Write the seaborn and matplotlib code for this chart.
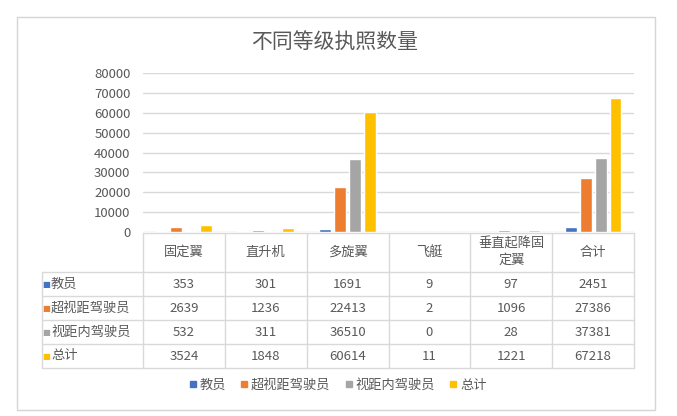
import matplotlib
matplotlib.use("Agg")
import matplotlib.pyplot as plt
from matplotlib.patches import Rectangle
from matplotlib.lines import Line2D
import seaborn as sns
import pandas as pd

# ---- data ----
categories = ['固定翼', '直升机', '多旋翼', '飞艇', '垂直起降固定翼', '合计']
table_headers = ['固定翼', '直升机', '多旋翼', '飞艇', '垂直起降固\n定翼', '合计']
series_names = ['教员', '超视距驾驶员', '视距内驾驶员', '总计']
jiaoyuan = [353, 301, 1691, 9, 97, 2451]
chaoshiju = [2639, 1236, 22413, 2, 1096, 27386]
shijunei = [532, 311, 36510, 0, 28, 37381]
zongji = [3524, 1848, 60614, 11, 1221, 67218]
series_values = [jiaoyuan, chaoshiju, shijunei, zongji]
colors = ['#4472C4', '#ED7D31', '#A5A5A5', '#FFC000']
title = '不同等级执照数量'
yticks = [0, 10000, 20000, 30000, 40000, 50000, 60000, 70000, 80000]

sns.set_style('white')
plt.rcParams['font.family'] = ['Noto Sans CJK SC', 'DejaVu Sans']

W, H = 677, 416
fig = plt.figure(figsize=(W / 100, H / 100), dpi=100)
fig.patch.set_facecolor('white')

def fx(px):
    return px / W

def fy(py):
    return 1 - py / H

# outer border
fig.patches.append(Rectangle((fx(17), fy(410)), fx(655) - fx(17), fy(17) - fy(410),
                             transform=fig.transFigure, fill=False,
                             edgecolor='#D5D5D5', linewidth=1.0))

text_c = '#595959'
grid_c = '#D9D9D9'

# ---- bar chart ----
px0, px1 = 143, 634
ax = fig.add_axes([fx(px0), fy(232), fx(px1) - fx(px0), fy(73) - fy(232)])
rows = []
for name, vals in zip(series_names, series_values):
    for c, v in zip(categories, vals):
        rows.append({'类别': c, '数量': v, '系列': name})
df = pd.DataFrame(rows)
sns.barplot(data=df, x='类别', y='数量', hue='系列', order=categories,
            hue_order=series_names, palette=colors, width=0.73, gap=0.2,
            saturation=1, ax=ax, legend=False, errorbar=None)
ax.set_ylim(0, 80000)
ax.set_yticks(yticks)
ax.set_yticklabels([str(t) for t in yticks], fontsize=9.5, color=text_c)
ax.set_xlim(-0.5, 5.5)
ax.set_xticks([])
ax.set_xlabel('')
ax.set_ylabel('')
for s in ax.spines.values():
    s.set_visible(False)
ax.tick_params(axis='y', length=0, pad=9)
ax.yaxis.grid(True, color=grid_c, linewidth=1)
ax.set_axisbelow(True)

fig.text(fx(335), fy(42), title, ha='center', va='center', fontsize=15, color=text_c)

# ---- data table (drawn in a pixel-like layout axes) ----
tx0, tx1, ty0, ty1 = 42, px1, 233, 368
head_h, row_h = 39, 24
tax = fig.add_axes([fx(tx0), fy(ty1), fx(tx1) - fx(tx0), fy(ty0) - fy(ty1)])
tax.set_xlim(tx0, tx1)
tax.set_ylim(ty1, ty0)
tax.axis('off')
ncol = len(table_headers)
col_w = (px1 - px0) / ncol
col_edges = [px0 + i * col_w for i in range(ncol + 1)]
row_edges = [ty0 + head_h + i * row_h for i in range(len(series_names) + 1)]
lw = 1.0
# horizontal lines
tax.plot([px0, px1], [ty0, ty0], color=grid_c, lw=lw, clip_on=False)
for yy in row_edges:
    tax.plot([tx0, px1], [yy, yy], color=grid_c, lw=lw, clip_on=False)
# vertical lines
tax.plot([tx0, tx0], [row_edges[0], row_edges[-1]], color=grid_c, lw=lw, clip_on=False)
for xx in col_edges:
    tax.plot([xx, xx], [ty0, row_edges[-1]], color=grid_c, lw=lw, clip_on=False)
# header text
for j, h in enumerate(table_headers):
    tax.text(col_edges[j] + col_w / 2, ty0 + head_h / 2, h, ha='center', va='center',
             fontsize=9.5, color=text_c, linespacing=1.3)
# rows
for i, (name, vals, col) in enumerate(zip(series_names, series_values, colors)):
    yc = row_edges[i] + row_h / 2
    tax.text(46, yc, '■', color=col, fontsize=6, family='DejaVu Sans',
             ha='center', va='center')
    tax.text(51, yc, name, ha='left', va='center', fontsize=9.5, color=text_c)
    for j, v in enumerate(vals):
        tax.text(col_edges[j] + col_w / 2, yc, str(v), ha='center', va='center',
                 fontsize=9.5, color=text_c)

# ---- legend ----
handles = [Line2D([], [], marker='s', linestyle='', color=c, markersize=4) for c in colors]
fig.legend(handles, series_names, ncol=4, loc='center', bbox_to_anchor=(fx(337), fy(385)),
           frameon=False, handletextpad=0.1, columnspacing=1.0, handlelength=0.8,
           fontsize=9.5, labelcolor=text_c)

fig.savefig('out.png', dpi=100, facecolor='white')
